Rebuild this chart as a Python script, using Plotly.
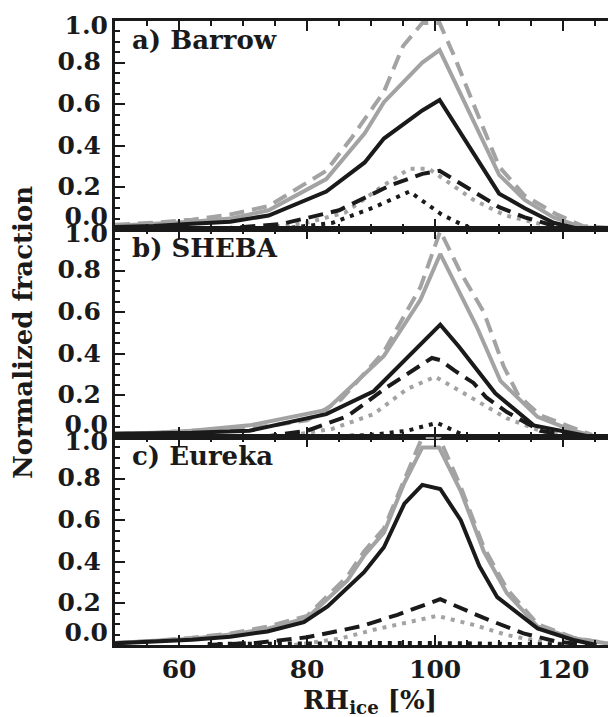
import plotly.graph_objects as go

# ---------------- data ----------------
x_ticks = [60, 80, 100, 120]
y_ticks = [0.0, 0.2, 0.4, 0.6, 0.8, 1.0]
panel_labels = ["a) Barrow", "b) SHEBA", "c) Eureka"]

# a) Barrow
barrow_gray_dash_x = [50, 56, 62, 68, 74, 83, 87, 92, 95, 98, 100.7, 103, 106, 110, 114, 119, 123, 127.5]
barrow_gray_dash_y = [0.02, 0.03, 0.045, 0.07, 0.11, 0.28, 0.44, 0.66, 0.88, 0.99, 0.99, 0.83, 0.60, 0.30, 0.16, 0.07, 0.015, 0.005]
barrow_gray_solid_x = [50, 56, 62, 68, 74, 83, 89, 92, 98, 100.7, 110, 114, 118.5, 123, 127.5]
barrow_gray_solid_y = [0.016, 0.025, 0.035, 0.05, 0.09, 0.24, 0.46, 0.61, 0.80, 0.86, 0.26, 0.14, 0.056, 0.008, 0.003]
barrow_black_solid_x = [50, 56, 62, 68, 74, 83, 89, 92, 98, 100.7, 110, 114, 118.5, 122.5, 127.5]
barrow_black_solid_y = [0.01, 0.015, 0.025, 0.035, 0.065, 0.18, 0.32, 0.435, 0.57, 0.62, 0.17, 0.10, 0.03, 0.0, 0.0]
barrow_black_dash_x = [66, 76, 85, 93, 98, 100.7, 110, 114, 118.5, 123]
barrow_black_dash_y = [0.0, 0.024, 0.09, 0.21, 0.265, 0.28, 0.105, 0.056, 0.016, 0.0]
barrow_gray_dot_x = [72, 80, 86, 91.5, 96, 99, 106, 111, 116.5, 120]
barrow_gray_dot_y = [0.0, 0.03, 0.08, 0.20, 0.29, 0.29, 0.14, 0.065, 0.024, 0.0]
barrow_black_dot_x = [76, 84, 90.5, 96, 101, 104, 106]
barrow_black_dot_y = [0.0, 0.03, 0.105, 0.18, 0.07, 0.024, 0.0]

# b) SHEBA
sheba_gray_dash_x = [50, 56, 62, 71, 80, 85.3, 92, 97.7, 100.8, 104, 107.6, 110.7, 113, 116.4, 121, 124.5]
sheba_gray_dash_y = [0.016, 0.02, 0.03, 0.04, 0.08, 0.18, 0.41, 0.72, 0.99, 0.79, 0.60, 0.34, 0.20, 0.105, 0.05, 0.01]
sheba_gray_solid_x = [50, 56, 62, 71, 83, 92, 97.7, 100.8, 106.5, 110.2, 116, 121.6, 124.5]
sheba_gray_solid_y = [0.016, 0.02, 0.03, 0.056, 0.13, 0.39, 0.66, 0.88, 0.53, 0.27, 0.097, 0.03, 0.008]
sheba_black_solid_x = [50, 56, 62, 71, 83, 90.4, 94.6, 100.8, 103.7, 109.4, 115.4, 121.6, 124.5]
sheba_black_solid_y = [0.016, 0.016, 0.02, 0.03, 0.11, 0.22, 0.35, 0.54, 0.435, 0.21, 0.056, 0.016, 0.0]
sheba_black_dash_x = [73, 80, 86.3, 92.5, 99.5, 100.8, 103, 106, 108, 111.2, 116.4, 122.6]
sheba_black_dash_y = [0.0, 0.03, 0.10, 0.24, 0.38, 0.37, 0.32, 0.26, 0.19, 0.12, 0.03, 0.0]
sheba_gray_dot_x = [76, 84, 90.4, 95.6, 100, 106, 111.2, 116.4, 121.6]
sheba_gray_dot_y = [0.0, 0.04, 0.11, 0.23, 0.29, 0.18, 0.09, 0.03, 0.0]
sheba_black_dot_x = [82, 90, 95.6, 100.3, 103.4, 105]
sheba_black_dot_y = [0.0, 0.01, 0.03, 0.068, 0.024, 0.0]

# c) Eureka
eureka_gray_dash_x = [50, 56, 62, 68, 74, 80, 86.3, 88.9, 92, 95.2, 98, 100.6, 104, 107.6, 111.2, 116, 121.6, 127.5]
eureka_gray_dash_y = [0.01, 0.02, 0.035, 0.055, 0.09, 0.14, 0.33, 0.45, 0.56, 0.80, 1.0, 1.0, 0.76, 0.47, 0.27, 0.10, 0.035, 0.005]
eureka_gray_solid_x = [50, 56, 62, 68, 74, 80, 86.3, 88.9, 92, 95.2, 98, 100.6, 104, 107.6, 111.2, 116, 121.6, 127.5]
eureka_gray_solid_y = [0.01, 0.018, 0.03, 0.05, 0.08, 0.13, 0.31, 0.43, 0.54, 0.78, 0.95, 0.95, 0.74, 0.45, 0.25, 0.089, 0.032, 0.005]
eureka_black_solid_x = [50, 56, 62, 68, 73.8, 79.5, 83.2, 88.9, 92, 95.2, 98, 100.8, 104, 106.9, 109.7, 116, 121.6, 125.2]
eureka_black_solid_y = [0.008, 0.015, 0.025, 0.04, 0.065, 0.11, 0.185, 0.35, 0.47, 0.68, 0.77, 0.75, 0.60, 0.38, 0.23, 0.08, 0.024, 0.0]
eureka_black_dash_x = [64.5, 72, 80, 88.4, 94.1, 98.8, 100.8, 107.6, 113.8, 119, 124.2]
eureka_black_dash_y = [0.0, 0.01, 0.037, 0.09, 0.145, 0.20, 0.22, 0.13, 0.056, 0.016, 0.0]
eureka_gray_dot_x = [78, 85, 90.4, 95.6, 100.3, 106, 111.2, 116.4, 121.6]
eureka_gray_dot_y = [0.0, 0.03, 0.073, 0.11, 0.14, 0.097, 0.048, 0.016, 0.0]
eureka_black_dot_x = [64.5, 75, 85, 95, 100, 105, 112, 120]
eureka_black_dot_y = [0.005, 0.005, 0.008, 0.01, 0.01, 0.008, 0.005, 0.003]

panels = [
    [(barrow_gray_dot_x, barrow_gray_dot_y, "gray", "dot"),
     (barrow_gray_dash_x, barrow_gray_dash_y, "gray", "dash"),
     (barrow_gray_solid_x, barrow_gray_solid_y, "gray", "solid"),
     (barrow_black_dot_x, barrow_black_dot_y, "black", "dot"),
     (barrow_black_dash_x, barrow_black_dash_y, "black", "dash"),
     (barrow_black_solid_x, barrow_black_solid_y, "black", "solid")],
    [(sheba_gray_dot_x, sheba_gray_dot_y, "gray", "dot"),
     (sheba_gray_dash_x, sheba_gray_dash_y, "gray", "dash"),
     (sheba_gray_solid_x, sheba_gray_solid_y, "gray", "solid"),
     (sheba_black_dot_x, sheba_black_dot_y, "black", "dot"),
     (sheba_black_dash_x, sheba_black_dash_y, "black", "dash"),
     (sheba_black_solid_x, sheba_black_solid_y, "black", "solid")],
    [(eureka_gray_dot_x, eureka_gray_dot_y, "gray", "dot"),
     (eureka_gray_dash_x, eureka_gray_dash_y, "gray", "dash"),
     (eureka_gray_solid_x, eureka_gray_solid_y, "gray", "solid"),
     (eureka_black_dot_x, eureka_black_dot_y, "black", "dot"),
     (eureka_black_dash_x, eureka_black_dash_y, "black", "dash"),
     (eureka_black_solid_x, eureka_black_solid_y, "black", "solid")],
]

# ---------------- styling ----------------
INK = "#1a1a1a"
COLORS = {"gray": "#a3a3a3", "black": INK}
DASHES = {"solid": "solid", "dash": "15px,8px", "dot": "4px,6px"}
FONT = "DejaVu Serif"
TICKFONT = dict(family=FONT, size=25, color=INK, weight="bold")
XRANGE = [50, 129.5]
YRANGE = [0, 1.0]
LW = 3
PANEL_PX = 208.0  # pixel height of one panel (for label offsets)

fig = go.Figure()
domains = [[2 / 3, 1.0], [1 / 3, 2 / 3], [0.0, 1 / 3]]
minor_y = dict(ticks="inside", tickmode="linear", tick0=0, dtick=0.05,
               ticklen=5, tickwidth=2, tickcolor=INK)

for i, series in enumerate(panels):
    n = i + 1
    xa = "x" if n == 1 else f"x{n}"
    ya = "y" if n == 1 else f"y{n}"
    for xs, ys, col, dash in series:
        fig.add_trace(go.Scatter(
            x=xs, y=ys, mode="lines", xaxis=xa, yaxis=ya,
            line=dict(color=COLORS[col], width=4, dash=DASHES[dash]),
            showlegend=False, hoverinfo="skip"))

    # x axis
    fig.update_layout(**{f"xaxis{n if n > 1 else ''}": dict(
        domain=[0, 1], range=XRANGE, anchor=ya,
        showline=True, linewidth=LW, linecolor=INK, mirror="ticks",
        ticks="inside", ticklen=10, tickwidth=2, tickcolor=INK,
        tickvals=x_ticks, showticklabels=(n == 3), tickfont=TICKFONT,
        ticklabelstandoff=0,
        minor=dict(ticks="inside", tickmode="linear", tick0=50, dtick=5,
                   ticklen=5, tickwidth=2, tickcolor=INK),
        showgrid=False, zeroline=False)})

    # main y axis (left spine, ticks, middle labels)
    fig.update_layout(**{f"yaxis{n if n > 1 else ''}": dict(
        domain=domains[i], range=YRANGE, anchor=xa,
        showline=True, linewidth=LW, linecolor=INK, mirror=False,
        ticks="inside", ticklen=10, tickwidth=2, tickcolor=INK,
        tickvals=y_ticks,
        ticktext=["" if v in (0.0, 1.0) else f"{v:.1f}" for v in y_ticks],
        tickfont=TICKFONT, ticklabelstandoff=6, ticklabelshift=-1,
        ticklabeloverflow="allow",
        minor=minor_y, showgrid=False, zeroline=False)})

    k = 3 + 3 * i + 1
    # right-side ticks (no spine)
    fig.update_layout(**{f"yaxis{k}": dict(
        overlaying=ya, side="right", anchor=xa, range=YRANGE,
        showline=False, ticks="inside", ticklen=10, tickwidth=2,
        tickcolor=INK, tickvals=y_ticks, showticklabels=False,
        minor=minor_y, showgrid=False, zeroline=False)})
    # top label (1.0), drawn a little below the top tick
    off_top = 4 / PANEL_PX
    fig.update_layout(**{f"yaxis{k + 1}": dict(
        overlaying=ya, side="left", anchor=xa,
        range=[YRANGE[0] + off_top, YRANGE[1] + off_top],
        showline=False, ticks="",
        tickvals=[y_ticks[-1]], ticktext=[f"{y_ticks[-1]:.1f}"],
        tickfont=TICKFONT, ticklabelstandoff=6, ticklabeloverflow="allow",
        showgrid=False, zeroline=False)})
    # bottom label (0.0), drawn above the bottom tick
    off_bot = 13 / PANEL_PX
    fig.update_layout(**{f"yaxis{k + 2}": dict(
        overlaying=ya, side="left", anchor=xa,
        range=[YRANGE[0] - off_bot, YRANGE[1] - off_bot],
        showline=False, ticks="",
        tickvals=[y_ticks[0]], ticktext=[f"{y_ticks[0]:.1f}"],
        tickfont=TICKFONT, ticklabelstandoff=6, ticklabeloverflow="allow",
        showgrid=False, zeroline=False)})
    # empty traces so that the overlay axes are registered and drawn
    for kk in (k, k + 1, k + 2):
        fig.add_trace(go.Scatter(x=[], y=[], xaxis=xa, yaxis=f"y{kk}",
                                 mode="lines", showlegend=False,
                                 hoverinfo="skip"))

    fig.add_annotation(
        text=panel_labels[i], xref=f"{xa} domain", yref=f"{ya} domain",
        x=0.03, y=0.91, xanchor="left", yanchor="middle", showarrow=False,
        font=dict(family=FONT, size=26, color=INK, weight="bold"))

fig.add_annotation(
    text="Normalized fraction", xref="paper", yref="paper",
    x=-92 / 509, y=0.5, xanchor="center", yanchor="middle", textangle=-90,
    showarrow=False, font=dict(family=FONT, size=26, color=INK, weight="bold"))
fig.add_annotation(
    text="RH<sub>ice</sub> [%]", xref="paper", yref="paper",
    x=0.5, y=-57 / 624, xanchor="center", yanchor="middle",
    showarrow=False, font=dict(family=FONT, size=26, color=INK, weight="bold"))

fig.update_layout(
    width=616, height=717,
    margin=dict(l=107, r=0, t=13, b=80),
    paper_bgcolor="white", plot_bgcolor="white",
    showlegend=False)

fig.write_html("out.html")
